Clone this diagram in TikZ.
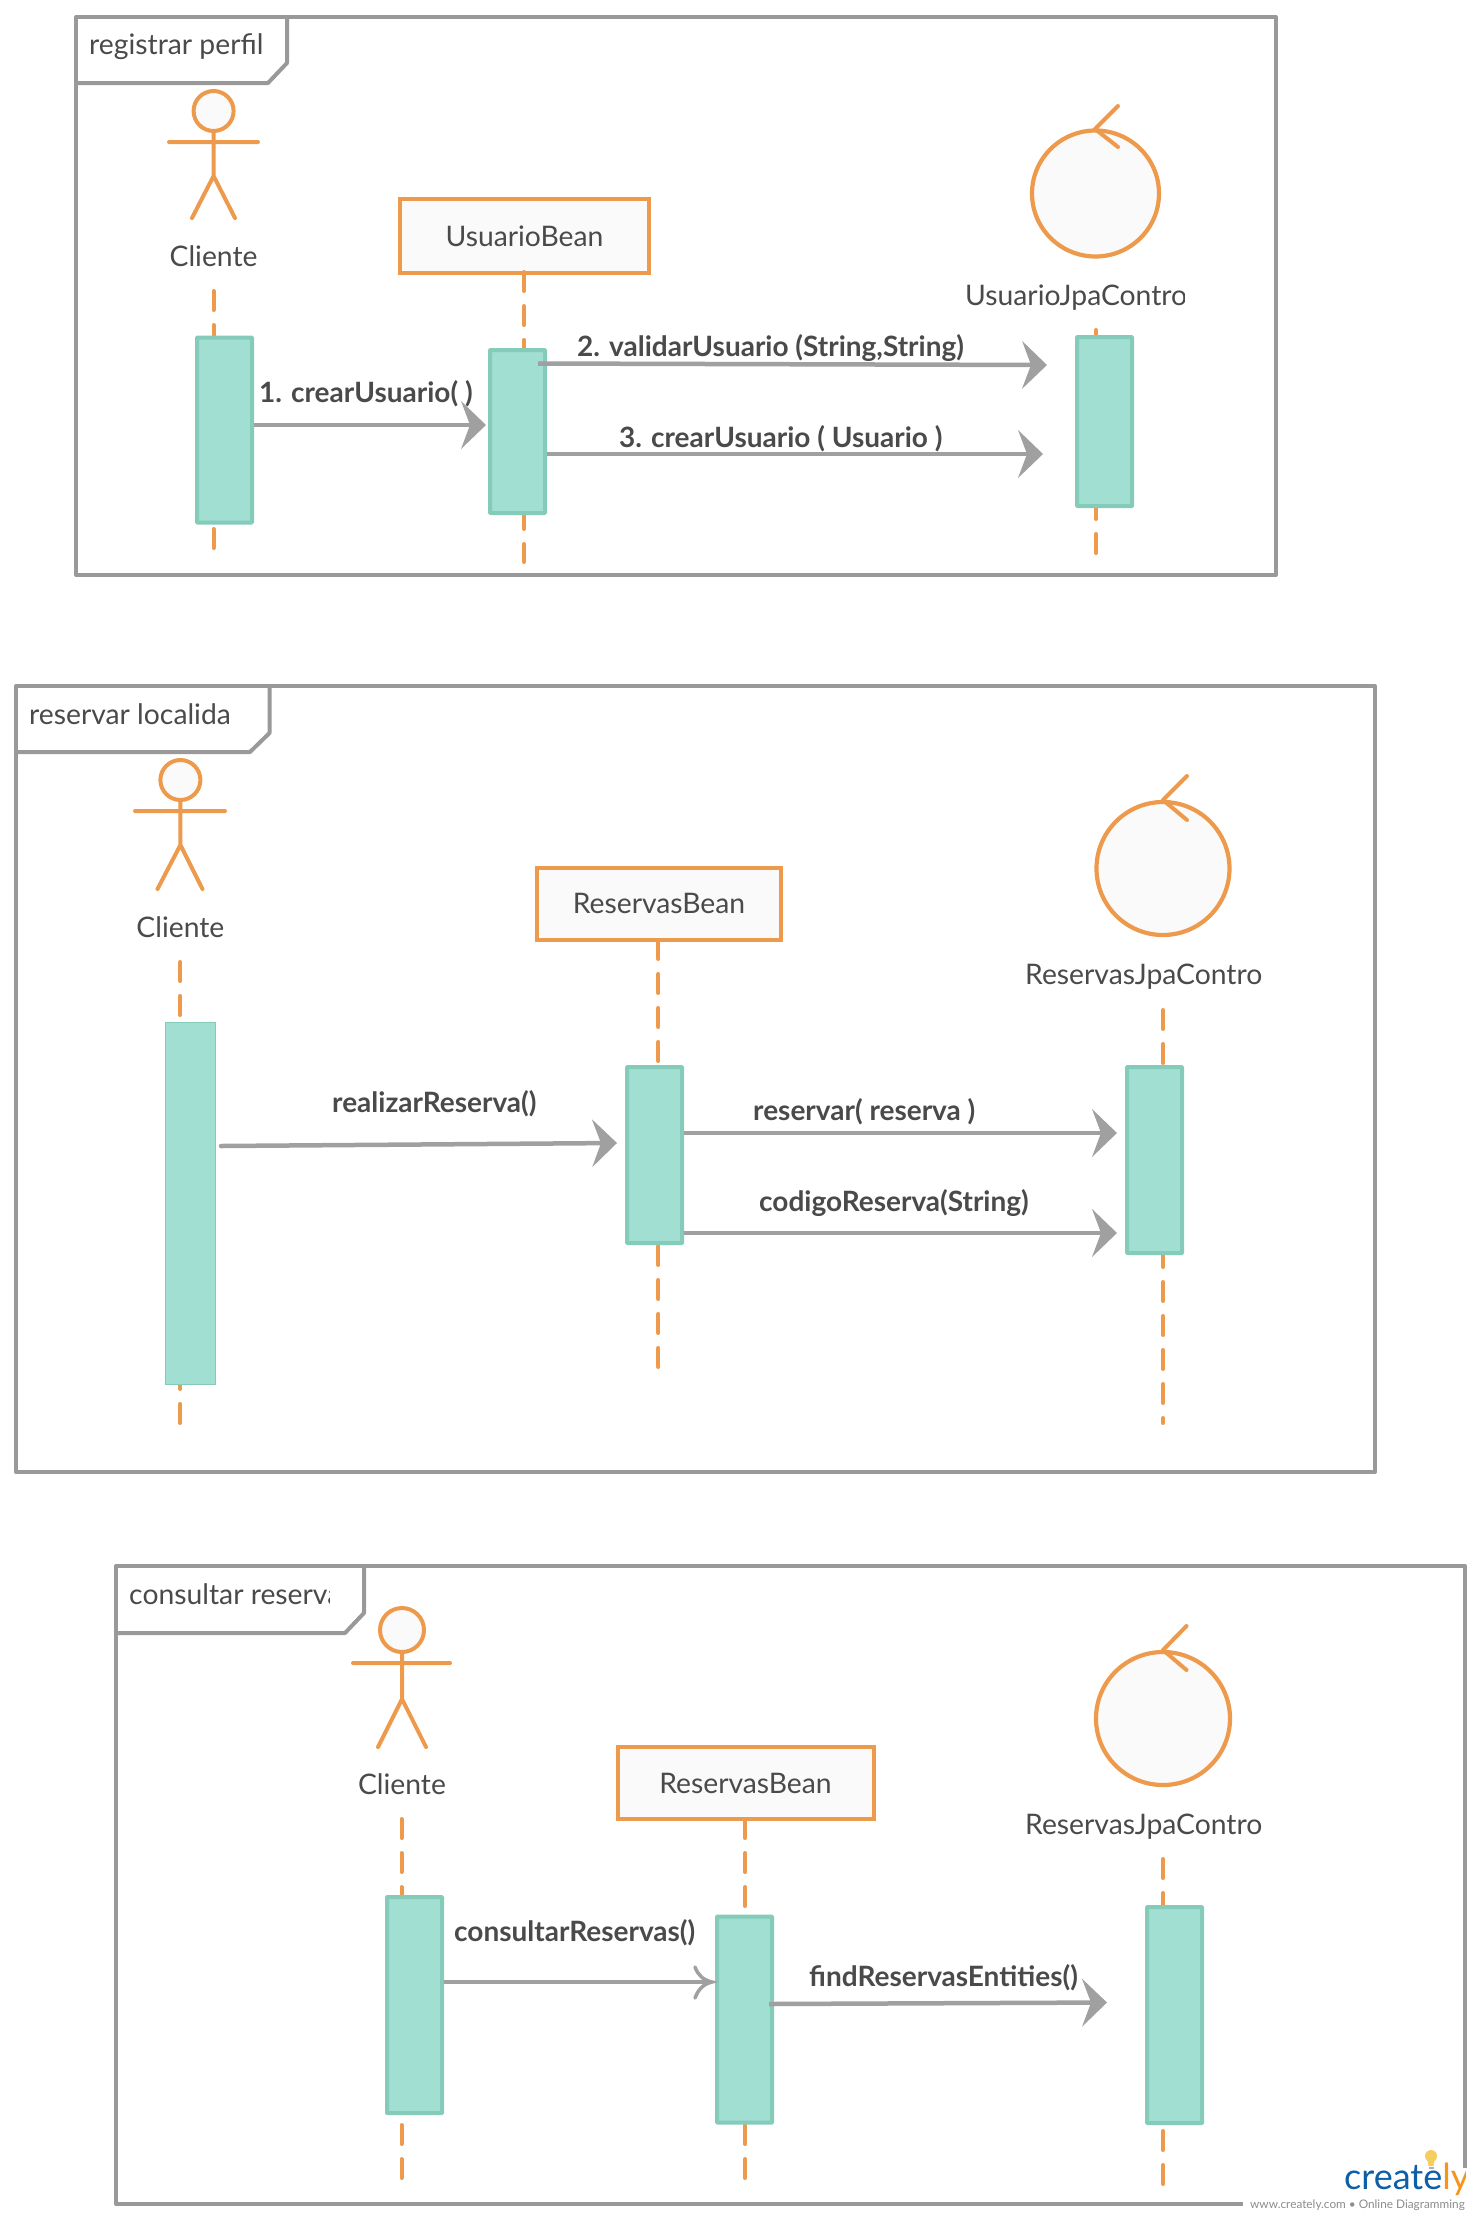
\documentclass[tikz,border=0pt]{standalone}
\usepackage{fontspec}
\setmainfont{Lato}
\usetikzlibrary{arrows.meta}
\definecolor{orng}{HTML}{EE9A4D}
\definecolor{grayln}{HTML}{999999}
\definecolor{msgc}{HTML}{A0A0A0}
\definecolor{txtc}{HTML}{4A4A4A}
\definecolor{actf}{HTML}{A0DFD2}
\definecolor{actb}{HTML}{84CBBA}
\definecolor{pale}{HTML}{FAFAFA}
\definecolor{lgblue}{HTML}{0F5FA8}
\definecolor{lgorng}{HTML}{F7941D}
\definecolor{bulb}{HTML}{F5CE5F}
\definecolor{lgtxt}{HTML}{8C8C8C}
\tikzset{
  frameln/.style={draw=grayln,line width=4pt,line join=round},
  figure/.style={draw=orng,line width=4pt,line cap=round,line join=round},
  ctrl/.style={draw=orng,line width=4.2pt,fill=pale},
  life/.style={draw=orng,line width=4pt,line cap=round,dash pattern=on 19pt off 15pt},
  actbox/.style={draw=actb,fill=actf,line width=4pt,rectangle,inner sep=0pt,rounded corners=0.6pt},
  actthin/.style={draw=actb,fill=actf,line width=1pt,rectangle,inner sep=0pt},
  beanbox/.style={draw=orng,fill=pale,line width=4pt,rectangle,inner sep=0pt,text=txtc,font=\fontsize{28.3}{32}\selectfont},
  plain/.style={text=txtc,anchor=base west,inner sep=0pt,font=\fontsize{28.3}{32}\selectfont},
  plainc/.style={plain,anchor=base},
  msgtxt/.style={text=txtc,anchor=base west,inner sep=0pt,font=\fontsize{28}{32}\selectfont\bfseries},
  msg/.style={draw=msgc,line width=4.5pt,-{Stealth[length=25pt,width=48pt,inset=9pt,line width=0pt]}},
}
\begin{document}
\begin{tikzpicture}[x=1pt,y=-1pt]
\useasboundingbox (0,0) rectangle (1479,2220);
\fill[white] (0,0) rectangle (1479,2220);

%%% Diagram 1
\draw[frameln] (76,17) rectangle (1276,575);
\draw[frameln] (76,83) -- (268,83) -- (287,63) -- (287,17);
\node[plain] (t1) at (89,54) {registrar perfil};
% actor
\draw[figure,fill=pale] (213.6,111) ellipse (20pt and 20pt);
\draw[figure] (169,142) -- (258,142) (213.6,131) -- (213.6,176) (192,218) -- (213.6,176) -- (235,218);
\node[plainc] (cl1) at (213.6,266) {Cliente};
\coordinate (l11s) at (213.6,291); \coordinate (l11e) at (213.6,551);
\draw[life] (l11s) -- (l11e);
\node[actbox,minimum width=55pt,minimum height=185pt] (act11) at (224.5,430) {};
% bean
\node[beanbox,minimum width=249pt,minimum height=74pt] (bean1) at (524.5,236) {UsuarioBean};
\coordinate (l12s) at (524,272); \coordinate (l12e) at (524,562);
\draw[life] (l12s) -- (l12e);
\node[actbox,minimum width=55pt,minimum height=163pt] (act12) at (517.5,431.5) {};
% control
\draw[ctrl] (1095.5,193.5) ellipse (63.5pt and 63pt);
\draw[figure] (1118,106) -- (1095,129) -- (1118,147);
\begin{scope}
\clip (900,270) rectangle (1184,320);
\node[plain] (ctl1) at (965,305) {UsuarioJpaContro};
\end{scope}
\coordinate (l13s) at (1096,330); \coordinate (l13e) at (1096,557);
\draw[life] (l13s) -- (l13e);
\node[actbox,minimum width=55pt,minimum height=169pt] (act13) at (1104.5,421.5) {};
% messages
\coordinate (m11) at (486,425);
\draw[msg] (act11.east |- m11) -- (m11);
\node[msgtxt] (ml11) at (259,402) {1. crearUsuario( )};
\coordinate (m12s) at (538,363.5); \coordinate (m12) at (1047,365);
\draw[msg] (m12s) -- (m12);
\node[msgtxt] (ml12) at (577,356) {2. validarUsuario (String,String)};
\coordinate (m13) at (1043,454);
\draw[msg] (act12.east |- m13) -- (m13);
\node[msgtxt] (ml13) at (619,447) {3. crearUsuario ( Usuario )};

%%% Diagram 2
\draw[frameln] (16,686) rectangle (1375,1472);
\draw[frameln] (16,752) -- (250,752) -- (269.5,733) -- (269.5,686);
\node[plain] (t2) at (29,724) {reservar localida};
\draw[figure,fill=pale] (180.4,780) ellipse (20pt and 20pt);
\draw[figure] (135,811) -- (225,811) (180.4,800) -- (180.4,845) (157.5,889) -- (180.4,845) -- (202.5,889);
\node[plainc] (cl2) at (180.4,937) {Cliente};
\coordinate (l21s) at (180.4,962); \coordinate (l21e) at (180.4,1425);
\draw[life] (l21s) -- (l21e);
\node[actthin,minimum width=50pt,minimum height=362pt] (act21) at (190,1203) {};
\node[beanbox,minimum width=244pt,minimum height=72pt] (bean2) at (659,903.5) {ReservasBean};
\coordinate (l22s) at (658.4,940); \coordinate (l22e) at (658.4,1369);
\draw[life] (l22s) -- (l22e);
\node[actbox,minimum width=55pt,minimum height=176pt] (act22) at (654.5,1155) {};
\draw[ctrl] (1163,868.5) ellipse (66.5pt and 66.5pt);
\draw[figure] (1187,776) -- (1163,800) -- (1187,820);
\node[plain] (ctl2) at (1025,984) {ReservasJpaContro};
\coordinate (l23s) at (1163,1010); \coordinate (l23e) at (1163,1423);
\draw[life] (l23s) -- (l23e);
\node[actbox,minimum width=55pt,minimum height=186pt] (act23) at (1154.5,1160) {};
\coordinate (m21s) at (221,1146); \coordinate (m21) at (617,1143);
\draw[msg,line cap=round] (m21s) -- (m21);
\node[msgtxt] (ml21) at (332,1112) {realizarReserva()};
\coordinate (m22) at (1117,1133);
\draw[msg] (act22.east |- m22) -- (m22);
\node[msgtxt] (ml22) at (753,1120) {reservar( reserva )};
\coordinate (m23) at (1117,1233);
\draw[msg] (act22.east |- m23) -- (m23);
\node[msgtxt] (ml23) at (759,1211) {codigoReserva(String)};

%%% Diagram 3
\draw[frameln] (116,1566) rectangle (1465,2204);
\draw[frameln] (116,1633) -- (345,1633) -- (364,1613) -- (364,1566);
\begin{scope}
\clip (120,1570) rectangle (329,1625);
\node[plain] (t3) at (129,1604) {consultar reservas};
\end{scope}
\draw[figure,fill=pale] (402,1630) ellipse (22pt and 22pt);
\draw[figure] (353,1663) -- (450,1663) (402,1652) -- (402,1699) (378,1747) -- (402,1699) -- (426,1747);
\node[plainc] (cl3) at (402,1794) {Cliente};
\coordinate (l31s) at (401.5,1819); \coordinate (l31e) at (401.5,2180);
\draw[life] (l31s) -- (l31e);
\node[actbox,minimum width=55pt,minimum height=216pt] (act31) at (414.5,2005) {};
\node[beanbox,minimum width=256pt,minimum height=72pt] (bean3) at (745.5,1783) {ReservasBean};
\coordinate (l32s) at (745,1819); \coordinate (l32e) at (745,2181);
\draw[life] (l32s) -- (l32e);
\node[actbox,minimum width=55pt,minimum height=206pt] (act32) at (744.5,2019.5) {};
\draw[ctrl] (1163,1718.5) ellipse (67pt and 66.5pt);
\draw[figure] (1186.5,1626) -- (1163,1650) -- (1186.5,1670);
\node[plain] (ctl3) at (1025,1834) {ReservasJpaContro};
\coordinate (l33s) at (1163,1859); \coordinate (l33e) at (1163,2187);
\draw[life] (l33s) -- (l33e);
\node[actbox,minimum width=55pt,minimum height=216pt] (act33) at (1174.5,2015) {};
\coordinate (m31) at (712,1982);
\draw[draw=msgc,line width=4.5pt] (act31.east |- m31) -- (m31);
\draw[draw=msgc,line width=3.5pt,line cap=round] (695,1967) .. controls (698,1975) and (703,1980) .. (m31) .. controls (703,1984) and (698,1990) .. (695,1998);
\node[msgtxt] (ml31) at (454,1941) {consultarReservas()};
\coordinate (m32s) at (769,2004); \coordinate (m32) at (1107,2002.5);
\draw[msg] (m32s) -- (m32);
\node[msgtxt] (ml32) at (809,1986) {findReservasEntities()};

%%% Watermark
\fill[white] (1243,2168) rectangle (1479,2220);
\fill[bulb] (1431,2156) circle (6pt);
\fill[bulb] (1427.5,2160) -- (1434.5,2160) -- (1433.5,2166) -- (1428.5,2166) -- cycle;
\fill[gray!60] (1428.5,2166.5) rectangle (1433.5,2169);
\begin{scope}
\clip (1340,2160) rectangle (1465,2200);
\node[anchor=base west,inner sep=0pt,font=\fontsize{36}{40}\selectfont,text=lgblue] (lg) at (1344,2189) {create\textcolor{lgorng}{ly}};
\end{scope}
\node[anchor=base west,inner sep=0pt,font=\fontsize{11.8}{14}\selectfont,text=lgtxt] (lgt) at (1250,2208) {www.creately.com • Online Diagramming};
\end{tikzpicture}
\end{document}
